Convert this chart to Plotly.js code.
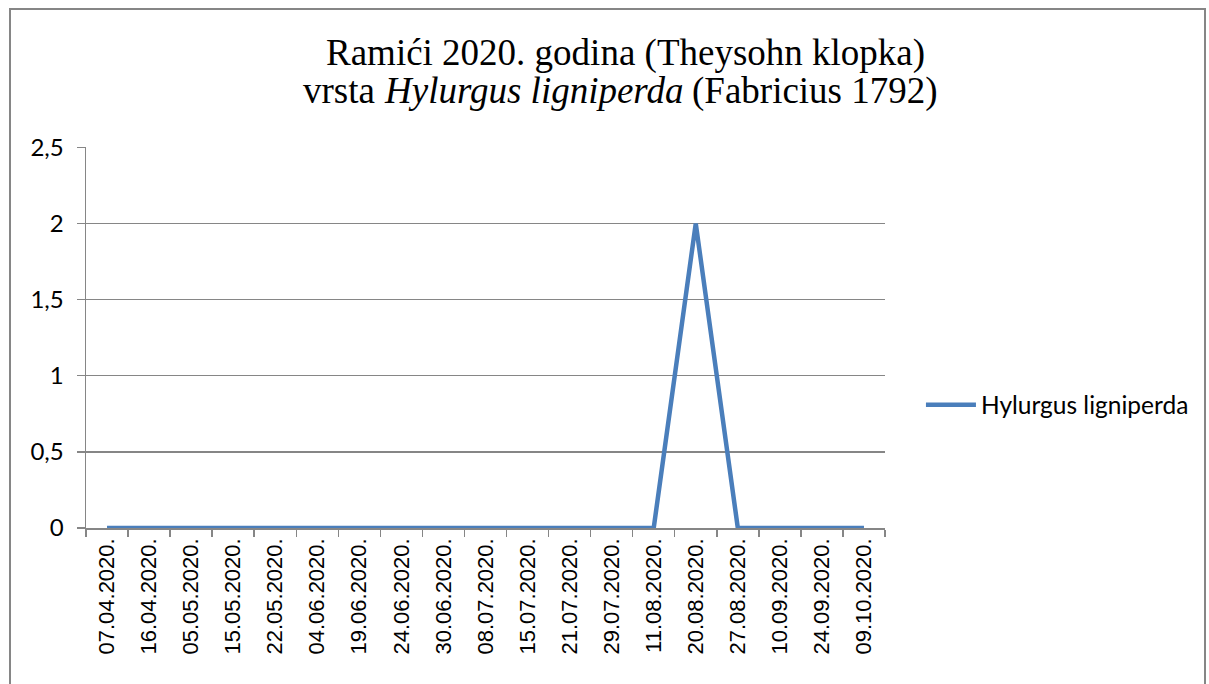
<!DOCTYPE html>
<html>
<head>
<meta charset="utf-8">
<script src="https://cdn.plot.ly/plotly-3.0.1.min.js"></script>
<style>
html,body{margin:0;padding:0;background:#fff;overflow:hidden;}
#frame{position:absolute;left:9px;top:8px;width:1197px;height:700px;border:2px solid #868686;border-bottom:none;box-sizing:border-box;pointer-events:none;z-index:5;}
#chart{position:absolute;left:0;top:0;width:1209px;height:684px;}
</style>
</head>
<body>
<div id="chart"></div>
<div id="frame"></div>
<script>
const dates = ["07.04.2020.","16.04.2020.","05.05.2020.","15.05.2020.","22.05.2020.","04.06.2020.","19.06.2020.","24.06.2020.","30.06.2020.","08.07.2020.","15.07.2020.","21.07.2020.","29.07.2020.","11.08.2020.","20.08.2020.","27.08.2020.","10.09.2020.","24.09.2020.","09.10.2020."];
const counts = [0,0,0,0,0,0,0,0,0,0,0,0,0,0,2,0,0,0,0];
const seriesName = "Hylurgus ligniperda";
const yTicks = [0,0.5,1,1.5,2,2.5];
const titleLine1 = 'Ramići 2020. godina (Theysohn klopka)';
const titleLine2Parts = ['vrsta', 'Hylurgus ligniperda', '(Fabricius 1792)'];

const trace = {
  x: dates, y: counts, type: 'scatter', mode: 'lines', name: seriesName,
  line: {color: '#4a7ebb', width: 4.5}, showlegend: true, cliponaxis: false
};
const grid = '#868686';
const serif = 'Liberation Serif, "Times New Roman", serif';
const titleSize = 37;
const titleFont = {family: serif, size: titleSize, color: '#000'};
const italicFont = {family: serif, size: titleSize, color: '#000', style: 'italic'};
const L = 86, PW = 799;
const line2Y = 1.147;
const layout = {
  width: 1209, height: 684,
  margin: {l: L, r: 324, t: 147, b: 156},
  paper_bgcolor: '#fff', plot_bgcolor: '#fff',
  separators: ',.',
  annotations: [
    {text: titleLine1, xref: 'paper', yref: 'paper', x: 0.675, y: 1.2467, xanchor: 'center', yanchor: 'middle', showarrow: false, font: titleFont},
    {text: titleLine2Parts[0], xref: 'paper', yref: 'paper', x: 0.4, y: line2Y, xanchor: 'left', yanchor: 'middle', showarrow: false, font: titleFont},
    {text: titleLine2Parts[1], xref: 'paper', yref: 'paper', x: 0.5, y: line2Y, xanchor: 'left', yanchor: 'middle', showarrow: false, font: italicFont},
    {text: titleLine2Parts[2], xref: 'paper', yref: 'paper', x: 0.8, y: line2Y, xanchor: 'left', yanchor: 'middle', showarrow: false, font: titleFont}
  ],
  xaxis: {
    type: 'category', tickmode: 'array', tickvals: dates, ticktext: dates,
    range: [-0.5, dates.length - 0.5],
    tickangle: -90, ticks: 'outside', tickson: 'boundaries', ticklen: 7, tickcolor: grid, tickwidth: 1.5,
    showline: true, linecolor: grid, linewidth: 1.5, showgrid: false, zeroline: false,
    tickfont: {family: 'Liberation Sans, Arial, sans-serif', size: 22, color: '#000'},
    fixedrange: true
  },
  yaxis: {
    range: [0, 2.502], tickmode: 'array', tickvals: yTicks,
    ticks: 'outside', ticklen: 8, tickcolor: grid, tickwidth: 1.5,
    showline: true, linecolor: grid, linewidth: 1.5,
    showgrid: true, gridcolor: grid, gridwidth: 1.5, zeroline: false,
    tickfont: {family: 'Lato, sans-serif', size: 24, color: '#000'},
    ticklabelstandoff: 8,
    fixedrange: true
  },
  legend: {
    x: 1.045, xanchor: 'left', y: 0.323, yanchor: 'middle',
    font: {family: 'Lato, sans-serif', size: 24.5, color: '#000'},
    bgcolor: 'rgba(0,0,0,0)', itemwidth: 50
  }
};
Plotly.newPlot('chart', [trace], layout, {displayModeBar: false, staticPlot: true}).then(function (gd) {
  // lay out the three parts of the second title line side by side, centred
  const nodes = gd.querySelectorAll('.annotation-text');
  const w = [1, 2, 3].map(i => nodes[i].getComputedTextLength());
  const gap = titleSize * 0.25;
  const total = w[0] + w[1] + w[2] + 2 * gap;
  const centerPx = 618;
  let left = centerPx - total / 2;
  const xs = [];
  for (let i = 0; i < 3; i++) { xs.push((left - L) / PW); left += w[i] + gap; }
  return Plotly.relayout(gd, {
    'annotations[1].x': xs[0], 'annotations[2].x': xs[1], 'annotations[3].x': xs[2]
  });
});
</script>
</body>
</html>
